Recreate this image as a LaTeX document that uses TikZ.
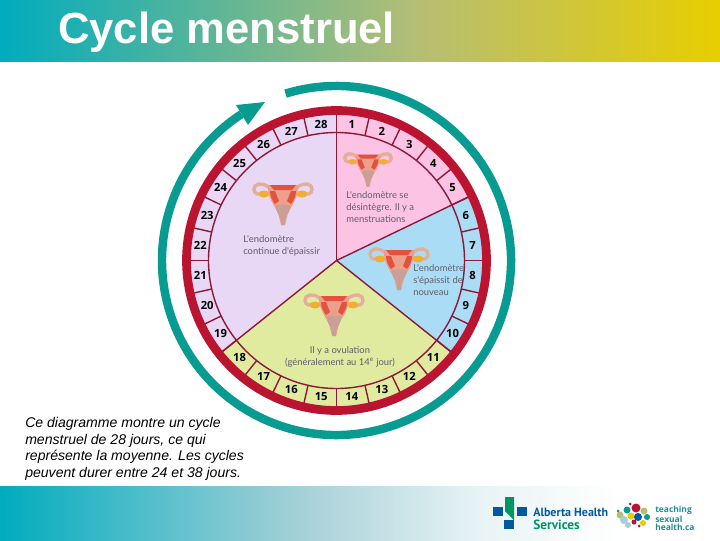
\documentclass[tikz,border=0pt]{standalone}
\usepackage{fontspec}
\setmainfont{Liberation Sans}
\newfontfamily\wheelfont{Open Sans}
\newfontfamily\capfont{Lato}
\newfontfamily\logofont{PT Sans}
\usetikzlibrary{arrows.meta}

\definecolor{barteal}{RGB}{0,172,190}
\definecolor{barkhaki}{RGB}{182,190,115}
\definecolor{baryellow}{RGB}{232,206,0}
\definecolor{barpale}{RGB}{165,208,215}
\definecolor{barmist}{RGB}{232,243,245}
\definecolor{ringred}{RGB}{186,20,48}
\definecolor{lineRed}{RGB}{140,25,55}
\definecolor{cycleteal}{RGB}{8,155,145}
\definecolor{wedgepurple}{RGB}{232,215,245}
\definecolor{wedgepink}{RGB}{252,195,228}
\definecolor{wedgeblue}{RGB}{170,220,245}
\definecolor{wedgegreen}{RGB}{225,235,160}
\definecolor{tubepink}{RGB}{226,175,155}
\definecolor{bodypink}{RGB}{236,160,140}
\definecolor{bodyred}{RGB}{226,82,62}
\definecolor{neckgrey}{RGB}{200,160,150}
\definecolor{ovaryyellow}{RGB}{240,175,50}
\definecolor{captiongrey}{RGB}{95,95,105}
\definecolor{ahsblue}{RGB}{0,90,160}
\definecolor{ahsgreen}{RGB}{0,150,100}
\definecolor{healthteal}{RGB}{30,140,150}

\pgfdeclarehorizontalshading{topbar}{100bp}{color(0bp)=(barteal); color(25bp)=(barteal); color(54.2bp)=(barkhaki); color(75bp)=(baryellow); color(100bp)=(baryellow)}
\pgfdeclarehorizontalshading{bottombar}{100bp}{color(0bp)=(barteal); color(25bp)=(barteal); color(45.8bp)=(barpale); color(58.3bp)=(barmist); color(68bp)=(white); color(100bp)=(white)}

\tikzset{
  uterus/.pic = {
    \draw[tubepink, line width=2.4pt, line cap=round] (-11,7) .. controls (-17,1) and (-24,-1) .. (-28,3) .. controls (-31,8) and (-27,12) .. (-23,11);
    \draw[tubepink, line width=2.4pt, line cap=round] (11,7) .. controls (17,1) and (24,-1) .. (28,3) .. controls (31,8) and (27,12) .. (23,11);
    \fill[ovaryyellow] (-19,11) ellipse [x radius=5.5, y radius=3.5];
    \fill[ovaryyellow] (19,11) ellipse [x radius=5.5, y radius=3.5];
    \fill[bodypink] (-15,2) -- (15,2) .. controls (16,14) and (9,22) .. (5,30) -- (2,42) -- (-2,42) -- (-5,30) .. controls (-9,22) and (-16,14) .. (-15,2) -- cycle;
    \fill[bodyred] (-13,2) -- (13,2) -- (9,7) -- (-9,7) -- cycle;
    \fill[bodyred] (-13,8) -- (-8,8) -- (-4,18) -- (-8,21) .. controls (-11,17) and (-13,13) .. (-13,8) -- cycle;
    \fill[bodyred] (13,8) -- (8,8) -- (4,18) -- (8,21) .. controls (11,17) and (13,13) .. (13,8) -- cycle;
    \fill[neckgrey] (-7,22) -- (7,22) .. controls (8,28) and (4,31) .. (2,36) -- (2,42) -- (-2,42) -- (-2,36) .. controls (-4,31) and (-8,28) .. (-7,22) -- cycle;
  }
}

\begin{document}
\begin{tikzpicture}[x=0.025cm, y=-0.025cm,
    daynum/.style = {font=\wheelfont\bfseries\fontsize{8}{9}\selectfont, text=black, inner sep=0pt},
    caption/.style = {font=\capfont\fontsize{6.7}{8.4}\selectfont, text=captiongrey, inner sep=0pt, align=left},
    daysep/.style = {lineRed, line width=1pt}]
    \useasboundingbox (0,0) rectangle (720,540);

    % Bars
    \shade[shading=topbar] (0,0) rectangle (720,61);
    \shade[shading=bottombar] (0,486) rectangle (720,540);
    \node[anchor=west, inner sep=0pt, text=white, font=\bfseries\fontsize{31}{34}\selectfont] (title) at (58,32) {Cycle menstruel};

    \begin{scope}[shift={(336.5,260.5)}]
    \coordinate (hub) at (0,0);

    % Cycle arrow
    \coordinate (tip) at (-71.5,-158.5);
    \coordinate (barbA) at (-100.5,-155.5);
    \coordinate (barbB) at (-88.5,-135.5);
    \draw[cycleteal, line width=6pt] (-107:174.5) arc[start angle=-107, end angle=237, radius=174.5];
    \fill[cycleteal] (tip) -- (barbA) -- (barbB) -- cycle;

    % Wedges
    \foreach \from/\to/\shade in {-90/-25.71/wedgepink, -25.71/38.57/wedgeblue, 38.57/141.43/wedgegreen, 141.43/270/wedgepurple}
      \fill[\shade] (hub) -- (\from:148) arc[start angle=\from, end angle=\to, radius=148] -- cycle;

    % Day ring
    \draw[daysep] (hub) circle[radius=128];
    \foreach \from/\shade in {-90/wedgepink, -25.71/wedgeblue, 38.57/wedgegreen, 141.43/wedgepurple}
      \draw[daysep] (hub) -- (\from:148);
    \foreach \d in {1,...,27} {
      \pgfmathsetmacro{\ang}{-90+\d*360/28}
      \draw[daysep] (\ang:128) -- (\ang:148);
    }
    \draw[ringred, line width=6.2pt] (hub) circle[radius=150];

    % Days
    \foreach \d in {1,...,28} {
      \pgfmathsetmacro{\ang}{-90+(\d-0.5)*360/28}
      \node[daynum] (day\d) at (\ang:137) {\d};
    }
    \end{scope}

    % Icons
    \pic at (283,183) {uterus};
    \pic[scale=0.8] at (368,153) {uterus};
    \pic at (399,248) {uterus};
    \pic at (334,294) {uterus};

    % Captions
    \node[caption, anchor=west] (capPurple) at (243,246) {L'endomètre\\continue d'épaissir};
    \node[caption, anchor=west] (capPink) at (346,207) {L'endomètre se\\désintègre. Il y a\\menstruations};
    \node[caption, anchor=west] (capBlue) at (413,280) {L'endomètre\\s'épaissit de\\nouveau};
    \node[caption, anchor=center, align=center] (capGreen) at (340,357) {Il y a ovulation\\(généralement au 14\textsuperscript{e} jour)};

    % Note
    \node[anchor=north west, inner sep=0pt, align=left, font=\itshape\fontsize{10}{11.8}\selectfont] (note) at (25,417)
      {Ce diagramme montre un cycle\\menstruel de 28 jours, ce qui\\représente la moyenne. Les cycles\\peuvent durer entre 24 et 38 jours.};

    % Logos
    \fill[ahsblue] (493,507) rectangle (503,516);
    \fill[ahsblue] (517,507) rectangle (527,516);
    \fill[ahsblue] (504,520) rectangle (514,529);
    \fill[ahsgreen] (505,497) -- (514,497) -- (514,520) -- (505,511) -- cycle;
    \node[anchor=west, inner sep=0pt, text=ahsblue, font=\logofont\bfseries\fontsize{8.5}{10}\selectfont] (ahsTop) at (533,512) {Alberta Health};
    \node[anchor=west, inner sep=0pt, text=ahsgreen, font=\logofont\bfseries\fontsize{9.5}{10}\selectfont] (ahsBottom) at (533,525) {Services};
    \foreach \x/\y/\r/\c in {636/508/4.5/ringred, 627/510/3.5/cycleteal, 644/511/3.5/barkhaki, 620/515/3.5/barkhaki, 631/516/3.5/baryellow, 638/517/4/ahsblue, 647/517/3/cycleteal, 624/520/4/barpale, 634/522/2.5/ringred, 643/523/3/baryellow, 618/511/1.5/cycleteal, 630/504/1.5/ringred, 639/526/1.5/ringred, 628/525/3/barpale}
      \fill[\c] (\x,\y) circle[radius=\r];
    \node[anchor=west, inner sep=0pt, align=left, text=healthteal, font=\wheelfont\bfseries\fontsize{6}{5.7}\selectfont] (healthName) at (655,518) {teaching\\sexual\\health.ca};

\end{tikzpicture}
\end{document}
